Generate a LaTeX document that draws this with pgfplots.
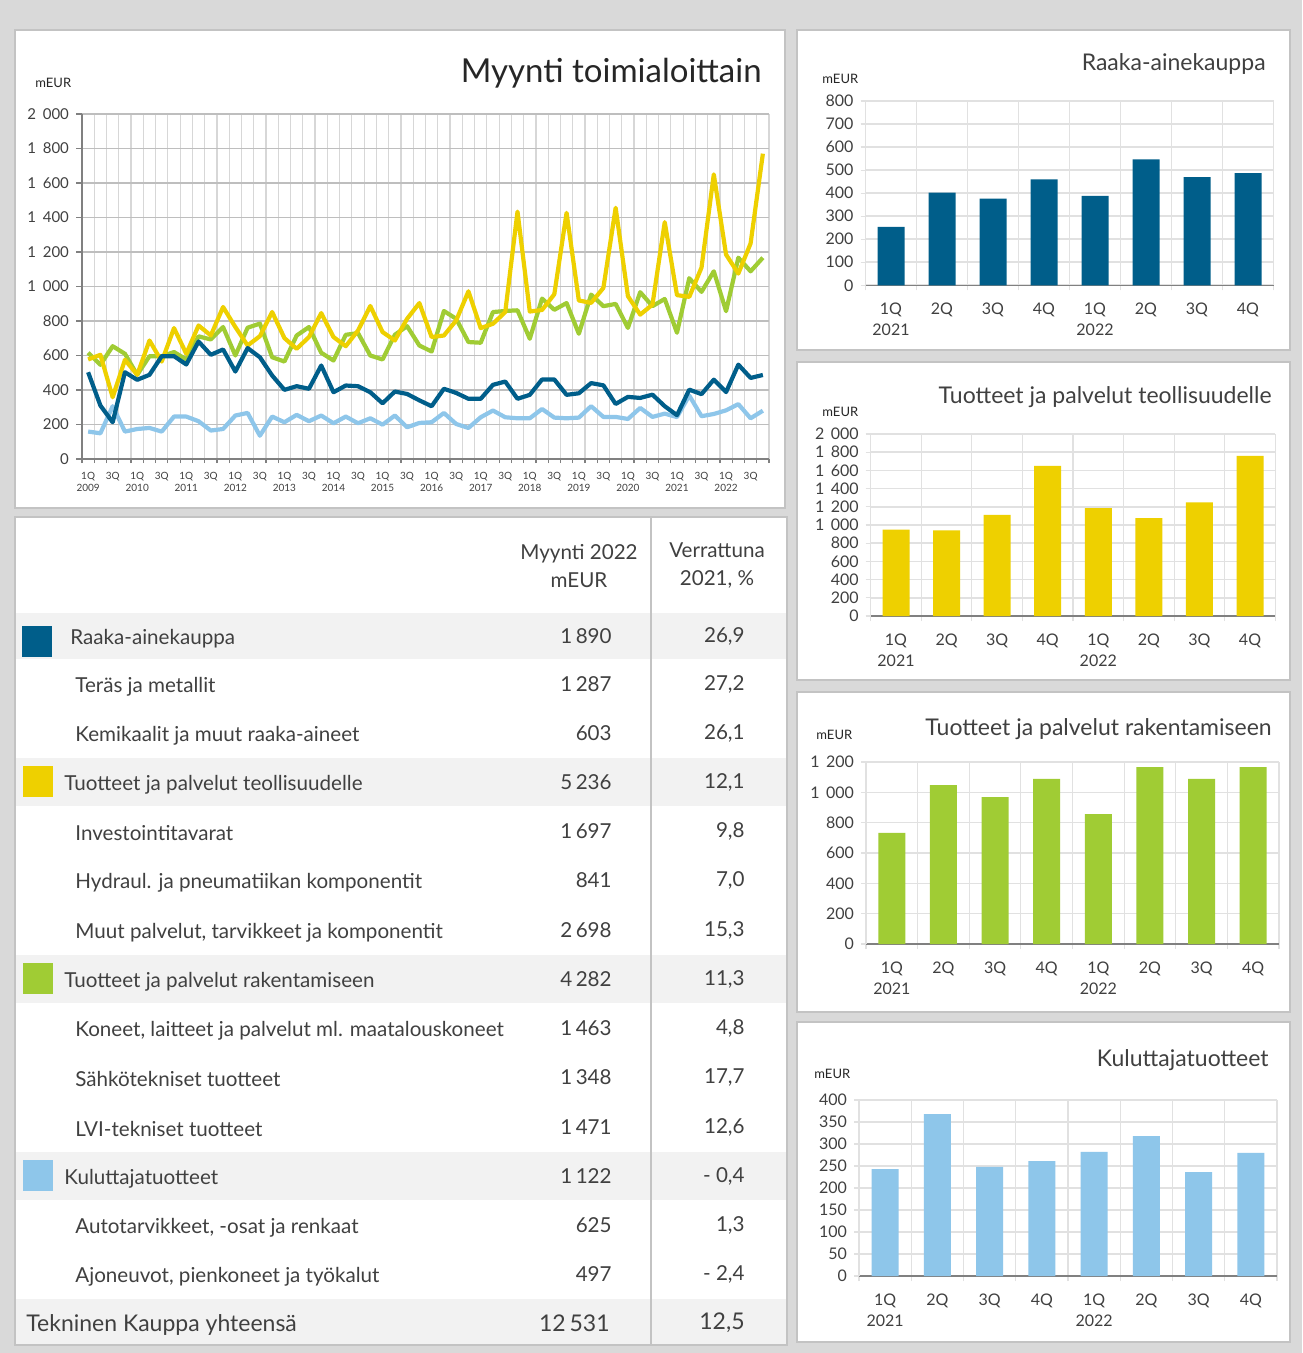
\documentclass[border=0pt]{standalone}
\usepackage{fontspec}
\setmainfont{Lato}
\usepackage{pgfplots}
\pgfplotsset{compat=1.18}
\definecolor{bgcol}{RGB}{217,217,217}
\definecolor{bordercol}{RGB}{195,195,195}
\definecolor{txtgray}{RGB}{64,64,64}
\definecolor{titlecol}{RGB}{38,38,38}
\definecolor{rowshade}{RGB}{242,242,242}
\definecolor{cblue}{RGB}{0,94,138}
\definecolor{cyellow}{RGB}{238,208,0}
\definecolor{cgreen}{RGB}{160,204,52}
\definecolor{clight}{RGB}{142,198,234}
\definecolor{axgray}{RGB}{128,128,128}
\definecolor{hgrid}{RGB}{190,190,190}
\definecolor{vgrid}{RGB}{215,215,215}
\definecolor{bgrid}{RGB}{225,225,225}
\newcommand\tf{\fontsize{10.3}{14}\selectfont}
\pgfplotsset{
  barchart/.style={
    scale only axis, anchor=south west, ybar, bar width=13.5pt,
    xmin=-0.5, xmax=7.5, ymin=0,
    /pgf/number format/assume math mode=true,
    axis x line*=bottom, axis y line*=left, axis line style={-},
    x axis line style={draw=axgray, line width=0.6pt},
    y axis line style={draw=bgrid, line width=0.6pt},
    xtick={0,...,7},
    xticklabels={{1Q\\2021},2Q,3Q,4Q,{1Q\\2022},2Q,3Q,4Q},
    xticklabel style={font=\fontsize{8}{10.5}\selectfont, text=txtgray, align=center},
    xticklabel shift=3pt,
    yticklabel style={font=\fontsize{8}{10}\selectfont, text=txtgray},
    major x tick style=transparent,
    minor xtick={-0.5,0.5,...,7.5},
    xminorgrids, minor grid style={draw=bgrid, line width=0.6pt},
    ymajorgrids, major grid style={draw=bgrid, line width=0.8pt},
    tick align=outside, major tick length=2.5pt, minor tick length=2.5pt,
    tick style={draw=bgrid, line width=0.6pt},
  }
}
\begin{document}
\begin{tikzpicture}
\path[use as bounding box] (0,0) rectangle (651pt,-676.5pt);
\begin{scope}[x=0.5pt,y=-0.5pt]
\fill[bgcol] (0,0) rectangle (1302,1353);
% panels
\filldraw[fill=white, draw=bordercol, line width=1pt] (15,30) rectangle (785,508);
\filldraw[fill=white, draw=bordercol, line width=1pt] (15,517) rectangle (787,1345);
\filldraw[fill=white, draw=bordercol, line width=1pt] (797,30) rectangle (1290,350);
\filldraw[fill=white, draw=bordercol, line width=1pt] (797,362) rectangle (1290,680);
\filldraw[fill=white, draw=bordercol, line width=1pt] (797,692) rectangle (1290,1012);
\filldraw[fill=white, draw=bordercol, line width=1pt] (797,1022) rectangle (1290,1342);
% table shading
\fill[rowshade] (16,613) rectangle (786,659);
\fill[rowshade] (16,758) rectangle (786,806);
\fill[rowshade] (16,955) rectangle (786,1003);
\fill[rowshade] (16,1152) rectangle (786,1200);
\fill[rowshade] (16,1299) rectangle (786,1344);
\draw[bordercol, line width=1pt] (651,517) -- (651,1345);
% colour squares
\fill[cblue] (22,626) rectangle (52,657);
\fill[cyellow] (23,766) rectangle (53,797);
\fill[cgreen] (23,963) rectangle (53,994);
\fill[clight] (23,1160) rectangle (53,1191);
% headers
\node[align=center, font=\tf, text=txtgray] at (579,566) {Myynti 2022\\mEUR};
\node[align=center, font=\tf, text=txtgray] at (717,566) {Verrattuna\\2021, \%};
% rows
\foreach \yy/\xx/\lab/\val/\pct in {
 636/70/{Raaka-ainekauppa}/{1\,890}/{26,9},
 684/75/{Teräs ja metallit}/{1\,287}/{27,2},
 733/75/{Kemikaalit ja muut raaka-aineet}/{603}/{26,1},
 782/64/{Tuotteet ja palvelut teollisuudelle}/{5\,236}/{12,1},
 831/75/{Investointitavarat}/{1\,697}/{9,8},
 880/75/{Hydraul. ja pneumatiikan komponentit}/{841}/{7,0},
 930/75/{Muut palvelut, tarvikkeet ja komponentit}/{2\,698}/{15,3},
 979/64/{Tuotteet ja palvelut rakentamiseen}/{4\,282}/{11,3},
 1028/75/{Koneet, laitteet ja palvelut ml. maatalouskoneet}/{1\,463}/{4,8},
 1077/75/{Sähkötekniset tuotteet}/{1\,348}/{17,7},
 1127/75/{LVI-tekniset tuotteet}/{1\,471}/{12,6},
 1176/64/{Kuluttajatuotteet}/{1\,122}/{- 0,4},
 1225/75/{Autotarvikkeet, -osat ja renkaat}/{625}/{1,3},
 1274/75/{Ajoneuvot, pienkoneet ja työkalut}/{497}/{- 2,4}}{
 \node[anchor=west, font=\tf, text=txtgray, inner sep=0pt, yshift=-1.2pt] at (\xx,\yy) {\lab};
 \node[anchor=east, font=\tf, text=txtgray, inner sep=0pt] at (612,\yy) {\val};
 \node[anchor=east, font=\tf, text=txtgray, inner sep=0pt] at (745,\yy) {\pct};
}
\node[anchor=west, font=\fontsize{11.5}{14}\selectfont, text=txtgray, inner sep=0pt, yshift=-1pt] at (26,1323) {Tekninen Kauppa yhteensä};
\node[anchor=east, font=\fontsize{11.5}{14}\selectfont, text=txtgray, inner sep=0pt] at (610,1323) {12\,531};
\node[anchor=east, font=\fontsize{11.5}{14}\selectfont, text=txtgray, inner sep=0pt] at (745,1323) {12,5};
% titles
\node[anchor=east, font=\fontsize{16.5}{20}\selectfont, text=titlecol, inner sep=0pt] at (762,73) {Myynti toimialoittain};
\node[anchor=west, font=\fontsize{6.5}{8}\selectfont, text=titlecol, inner sep=0pt] at (35,83) {mEUR};
\node[anchor=east, font=\fontsize{11.5}{14}\selectfont, text=txtgray, inner sep=0pt] at (1266,64) {Raaka-ainekauppa};
\node[anchor=west, font=\fontsize{6.5}{8}\selectfont, text=titlecol, inner sep=0pt] at (822,79) {mEUR};
\node[anchor=east, font=\fontsize{11.5}{14}\selectfont, text=txtgray, inner sep=0pt] at (1272,397) {Tuotteet ja palvelut teollisuudelle};
\node[anchor=west, font=\fontsize{6.5}{8}\selectfont, text=titlecol, inner sep=0pt] at (822,412) {mEUR};
\node[anchor=east, font=\fontsize{11.5}{14}\selectfont, text=txtgray, inner sep=0pt] at (1272,729) {Tuotteet ja palvelut rakentamiseen};
\node[anchor=west, font=\fontsize{6.5}{8}\selectfont, text=titlecol, inner sep=0pt] at (816,735) {mEUR};
\node[anchor=east, font=\fontsize{11.5}{14}\selectfont, text=txtgray, inner sep=0pt] at (1269,1060) {Kuluttajatuotteet};
\node[anchor=west, font=\fontsize{6.5}{8}\selectfont, text=titlecol, inner sep=0pt] at (814,1074) {mEUR};
\end{scope}

% ===== line chart =====
\begin{axis}[
  at={(41pt,-229.5pt)}, anchor=south west, scale only axis,
  width=343.5pt, height=172.5pt,
  xmin=-0.5, xmax=55.5, ymin=0, ymax=2000,
  axis x line*=bottom, axis y line*=left,
  axis line style={-, draw=axgray, line width=0.7pt},
  ytick={0,200,...,2000},
  yticklabels={0,200,400,600,800,{1\hspace{0.45em}000},{1\hspace{0.45em}200},{1\hspace{0.45em}400},{1\hspace{0.45em}600},{1\hspace{0.45em}800},{2\hspace{0.45em}000}},
  yticklabel style={font=\fontsize{7.5}{9}\selectfont, text=txtgray},
  ymajorgrids, major grid style={draw=hgrid, line width=0.6pt},
  xtick={0,2,...,54},
  xticklabels={{1Q\\2009},3Q,{1Q\\2010},3Q,{1Q\\2011},3Q,{1Q\\2012},3Q,{1Q\\2013},3Q,{1Q\\2014},3Q,{1Q\\2015},3Q,{1Q\\2016},3Q,{1Q\\2017},3Q,{1Q\\2018},3Q,{1Q\\2019},3Q,{1Q\\2020},3Q,{1Q\\2021},3Q,{1Q\\2022},3Q},
  xticklabel style={font=\fontsize{5}{6.3}\selectfont, text=txtgray, align=center},
  major x tick style=transparent,
  minor xtick={-0.5,0.5,...,55.5},
  xminorgrids, minor grid style={draw=vgrid, line width=0.6pt},
  tick align=outside, major tick length=3pt, minor tick length=2pt,
  tick style={draw=axgray, line width=0.6pt},
  every axis plot/.append style={line width=2.1pt, line join=round, mark=none},
]
\addplot[clight] coordinates {(0,159)(1,149)(2,306)(3,159)(4,174)(5,180)(6,159)(7,246)(8,246)(9,219)(10,165)(11,174)(12,252)(13,267)(14,135)(15,246)(16,213)(17,256)(18,219)(19,252)(20,207)(21,246)(22,207)(23,236)(24,199)(25,252)(26,184)(27,209)(28,213)(29,267)(30,203)(31,180)(32,242)(33,281)(34,242)(35,236)(36,236)(37,290)(38,240)(39,236)(40,240)(41,306)(42,244)(43,244)(44,232)(45,296)(46,244)(47,263)(48,243)(49,368)(50,248)(51,261)(52,282)(53,318)(54,236)(55,280)};
\addplot[cgreen] coordinates {(0,616)(1,546)(2,654)(3,610)(4,488)(5,596)(6,596)(7,620)(8,577)(9,711)(10,693)(11,765)(12,600)(13,761)(14,785)(15,590)(16,565)(17,716)(18,765)(19,616)(20,571)(21,720)(22,730)(23,600)(24,577)(25,720)(26,770)(27,658)(28,623)(29,858)(30,813)(31,678)(32,674)(33,852)(34,858)(35,862)(36,697)(37,930)(38,865)(39,904)(40,726)(41,953)(42,886)(43,899)(44,760)(45,967)(46,886)(47,928)(48,732)(49,1048)(50,969)(51,1088)(52,857)(53,1167)(54,1088)(55,1167)};
\addplot[cyellow] coordinates {(0,577)(1,604)(2,358)(3,575)(4,488)(5,687)(6,565)(7,759)(8,610)(9,774)(10,716)(11,881)(12,765)(13,658)(14,712)(15,852)(16,701)(17,639)(18,707)(19,846)(20,707)(21,654)(22,745)(23,887)(24,736)(25,687)(26,813)(27,904)(28,707)(29,716)(30,803)(31,972)(32,759)(33,784)(34,852)(35,1434)(36,855)(37,864)(38,955)(39,1427)(40,919)(41,905)(42,992)(43,1456)(44,944)(45,837)(46,895)(47,1373)(48,950)(49,940)(50,1110)(51,1650)(52,1185)(53,1075)(54,1250)(55,1770)};
\addplot[cblue] coordinates {(0,503)(1,310)(2,213)(3,503)(4,459)(5,488)(6,596)(7,596)(8,548)(9,681)(10,604)(11,635)(12,507)(13,643)(14,590)(15,484)(16,401)(17,422)(18,407)(19,542)(20,387)(21,426)(22,422)(23,387)(24,323)(25,391)(26,377)(27,340)(28,306)(29,407)(30,383)(31,349)(32,349)(33,430)(34,449)(35,349)(36,372)(37,461)(38,461)(39,372)(40,381)(41,440)(42,427)(43,319)(44,360)(45,354)(46,373)(47,306)(48,254)(49,402)(50,376)(51,460)(52,388)(53,547)(54,470)(55,487)};
\end{axis}

% ===== R1 Raaka-ainekauppa =====
\begin{axis}[barchart, at={(432.75pt,-142.65pt)}, width=204pt, height=92.15pt,
  ymax=800, ytick={0,100,...,800}]
\addplot[fill=cblue, draw=none] coordinates {(0,254)(1,402)(2,376)(3,460)(4,388)(5,547)(6,470)(7,487)};
\end{axis}

% ===== R2 Teollisuudelle =====
\begin{axis}[barchart, at={(435.35pt,-308pt)}, width=202.3pt, height=91pt,
  ymax=2000, ytick={0,200,...,2000},
  yticklabels={0,200,400,600,800,{1\hspace{0.4em}000},{1\hspace{0.4em}200},{1\hspace{0.4em}400},{1\hspace{0.4em}600},{1\hspace{0.4em}800},{2\hspace{0.4em}000}}]
\addplot[fill=cyellow, draw=none] coordinates {(0,950)(1,940)(2,1110)(3,1650)(4,1185)(5,1075)(6,1250)(7,1760)};
\end{axis}

% ===== R3 Rakentamiseen =====
\begin{axis}[barchart, at={(433pt,-472pt)}, width=206.5pt, height=91pt,
  ymax=1200, ytick={0,200,...,1200},
  yticklabels={0,200,400,600,800,{1\hspace{0.4em}000},{1\hspace{0.4em}200}}]
\addplot[fill=cgreen, draw=none] coordinates {(0,732)(1,1048)(2,969)(3,1088)(4,857)(5,1167)(6,1088)(7,1167)};
\end{axis}

% ===== R4 Kuluttajatuotteet =====
\begin{axis}[barchart, at={(429.5pt,-638pt)}, width=209pt, height=88pt,
  ymax=400, ytick={0,50,...,400}]
\addplot[fill=clight, draw=none] coordinates {(0,243)(1,368)(2,248)(3,261)(4,282)(5,318)(6,236)(7,280)};
\end{axis}
\end{tikzpicture}
\end{document}
